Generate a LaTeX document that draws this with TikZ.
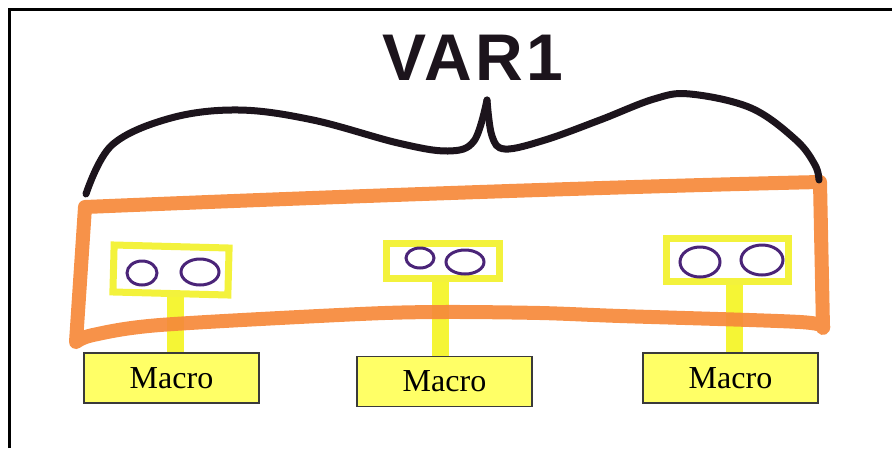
\documentclass[tikz,border=0pt]{standalone}
\usepackage{fontspec}
\setmainfont{Liberation Serif}
\newfontfamily\handfont[LetterSpace=5]{Liberation Sans Bold}
\definecolor{markorange}{HTML}{F6893A}
\definecolor{markyellow}{HTML}{F3F23C}
\definecolor{stemyellow}{HTML}{F5F535}
\definecolor{macrofill}{HTML}{FFFF66}
\definecolor{macroline}{HTML}{3A3A3A}
\definecolor{penpurple}{HTML}{4A2478}
\definecolor{penblack}{HTML}{1C141C}
\tikzset{
  macrobox/.style={draw=macroline, line width=1.5pt, fill=macrofill, minimum width=175pt, minimum height=50pt, inner sep=0pt, font=\fontsize{32}{32}\selectfont},
  slotbox/.style={draw=markyellow, line width=7pt, inner sep=0pt},
  stemline/.style={draw=stemyellow, line width=17pt},
  bandline/.style={draw=markorange, line width=14pt, line join=round, line cap=round, opacity=0.92},
  eye/.style={draw=penpurple, line width=3pt},
  bracepen/.style={draw=penblack, line width=7pt, line cap=round}
}
\begin{document}
\begin{tikzpicture}[x=1pt, y=-1pt]
\useasboundingbox (0,0) rectangle (892,448);
% frame
\draw[line width=3pt] (9,448) -- (9,9) -- (892,9);
% slot boxes
\node[slotbox, minimum width=115pt, minimum height=47pt, rotate=-1.5] (s1) at (171,270) {};
\node[slotbox, minimum width=113pt, minimum height=35pt] (s2) at (443,261) {};
\node[slotbox, minimum width=122pt, minimum height=43pt] (s3) at (727.5,260) {};
% macro boxes
\node[macrobox] (m1) at (171.5,378) {Macro};
\node[macrobox] (m2) at (444.5,381.5) {Macro};
\node[macrobox] (m3) at (730.5,378) {Macro};
% stems
\draw[stemline] ([xshift=5]s1.south) -- ([xshift=5]s1.south |- m1.north);
\draw[stemline] ([xshift=-3]s2.south) -- ([xshift=-3]s2.south |- m2.north);
\draw[stemline] ([xshift=7]s3.south) -- ([xshift=7]s3.south |- m3.north);
% orange band
\draw[bandline] plot[smooth, tension=0.5] coordinates {(823,328) (800,322) (620,316) (540,313) (444,312) (360,314) (160,325) (93,335) (76,342)}
  -- (85,207) .. controls (300,198) and (600,187) .. (820,182) -- cycle;
% eyes
\draw[eye] (142,273) ellipse [x radius=15, y radius=12];
\draw[eye] (200,272) ellipse [x radius=19, y radius=13];
\draw[eye] (420,258) ellipse [x radius=14, y radius=10];
\draw[eye] (465,262) ellipse [x radius=19, y radius=12];
\draw[eye] (700,262) ellipse [x radius=20, y radius=15];
\draw[eye] (762,260) ellipse [x radius=21, y radius=15];
% brace
\draw[bracepen] plot[smooth, tension=0.6] coordinates {(86,194) (112,145) (171,118) (239,110) (313,120) (398,143) (448,151) (474,141) (487,100)};
\draw[bracepen] plot[smooth, tension=0.6] coordinates {(487,100) (492,136) (505,149) (545,140) (600,120) (654,99) (690,94) (751,108) (796,140) (815,165) (819,180)};
% label
\node[font=\handfont\fontsize{66}{66}\selectfont, text=penblack, inner sep=0pt] (var) at (473,58) {VAR1};
\end{tikzpicture}
\end{document}
